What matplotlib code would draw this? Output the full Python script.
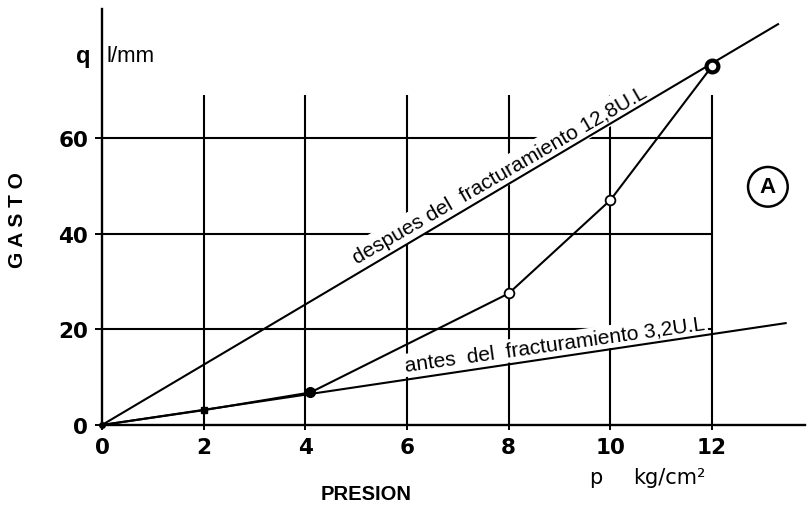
import matplotlib
matplotlib.use("Agg")
import matplotlib.pyplot as plt
from matplotlib.font_manager import FontProperties

# ---- data ----
presion = [0, 2, 4.1, 8, 10, 12]          # kg/cm2
gasto = [0, 3.1, 6.8, 27.5, 47, 75]       # l/min

despues_x = [0, 13.3]                      # after fracturing, 12.8 U.L
despues_y = [0, 83.8]
antes_x = [0, 13.45]                       # before fracturing, 3.2 U.L
antes_y = [0, 21.3]

x_ticks = [0, 2, 4, 6, 8, 10, 12]
y_ticks = [0, 20, 40, 60]
vgrid = [2, 4, 6, 8, 10, 12]
hgrid = [20, 40, 60]

W, H = 809, 510
fig = plt.figure(figsize=(W / 100, H / 100), dpi=100)
ax = fig.add_axes([102 / W, 84 / H, 703 / W, 416 / H])
ax.set_xlim(0, 703 / 50.83)
ax.set_ylim(0, 416 / 4.783)

LW = 1.5
for s in ["top", "right"]:
    ax.spines[s].set_visible(False)
for s in ["left", "bottom"]:
    ax.spines[s].set_linewidth(1.7)

ax.set_xticks(x_ticks)
ax.set_yticks(y_ticks)
ax.set_xticklabels([str(v) for v in x_ticks])
ax.set_yticklabels([str(v) for v in y_ticks])
tick_fp = FontProperties(family="DejaVu Sans", weight="bold", size=15.5)
for lab in ax.get_xticklabels() + ax.get_yticklabels():
    lab.set_fontproperties(tick_fp)
ax.tick_params(axis="x", direction="inout", length=7, width=1.4, pad=5)
ax.tick_params(axis="y", direction="out", length=5, width=1.4, pad=5)

# grid lines (hand drawn, limited extent)
ax.vlines(vgrid, 0, 69, colors="black", lw=LW, zorder=1)
ax.hlines(hgrid, 0, 12, colors="black", lw=LW, zorder=1)

# straight lines
ax.plot(despues_x, despues_y, color="black", lw=LW, zorder=4, clip_on=False)
ax.plot(antes_x, antes_y, color="black", lw=LW, zorder=4, clip_on=False)

# measured curve
ax.plot(presion, gasto, color="black", lw=LW, zorder=4)
ax.plot(presion[0:1], gasto[0:1], "o", ms=4, color="black", zorder=5, clip_on=False)
ax.plot(presion[1:2], gasto[1:2], "s", ms=4, color="black", zorder=5)
ax.plot(presion[2:3], gasto[2:3], "o", ms=7, color="black", zorder=5)
ax.plot(presion[3:5], gasto[3:5], "o", ms=7, mfc="white", mec="black", mew=1.3, zorder=5)
ax.plot(presion[5:6], gasto[5:6], "o", ms=8.5, mfc="white", mec="black", mew=3.0, zorder=5)

# labels along the lines
lab_font = dict(family="Liberation Sans", size=15)
ax.annotate("despues del  fracturamiento 12,8U.L", xy=(7.95, 6.3 * 7.95),
            xytext=(-1, 2), textcoords="offset points",
            rotation=30, rotation_mode="anchor", ha="center", va="bottom",
            zorder=3, bbox=dict(boxstyle="square,pad=0.2", fc="white", ec="none"),
            **lab_font)
ax.annotate("antes  del  fracturamiento 3,2U.L", xy=(8.93, 1.58 * 8.93),
            xytext=(0, 5.5), textcoords="offset points",
            rotation=8.0, rotation_mode="anchor", ha="center", va="baseline",
            zorder=3, bbox=dict(boxstyle="square,pad=0.1", fc="white", ec="none"),
            **lab_font)

# circled A
ax.text(13.1, 49.8, "A", ha="center", va="center", family="Liberation Sans",
        weight="bold", size=16, zorder=5,
        bbox=dict(boxstyle="circle,pad=0.42", fc="white", ec="black", lw=1.8))

# axis titles
fig.text(83 / W, 1 - 56 / H, "q", ha="center", va="center",
         family="Liberation Sans", weight="bold", size=17)
fig.text(106 / W, 1 - 57 / H, "l/mm", ha="left", va="center",
         family="Liberation Sans", size=16)
fig.text(18 / W, 1 - 220 / H, "G A S T O", rotation=90, ha="center", va="center",
         family="Liberation Sans", weight="bold", size=15)
fig.text(366 / W, 1 - 495 / H, "PRESION", ha="center", va="center",
         family="Liberation Sans", weight="bold", size=14.5)
fig.text(596 / W, 1 - 484 / H, "p", ha="center", va="baseline",
         family="DejaVu Sans", size=15)
fig.text(633 / W, 1 - 484 / H, "kg/cm\u00b2", ha="left", va="baseline",
         family="DejaVu Sans", size=15)

fig.savefig("out.png", dpi=100)
